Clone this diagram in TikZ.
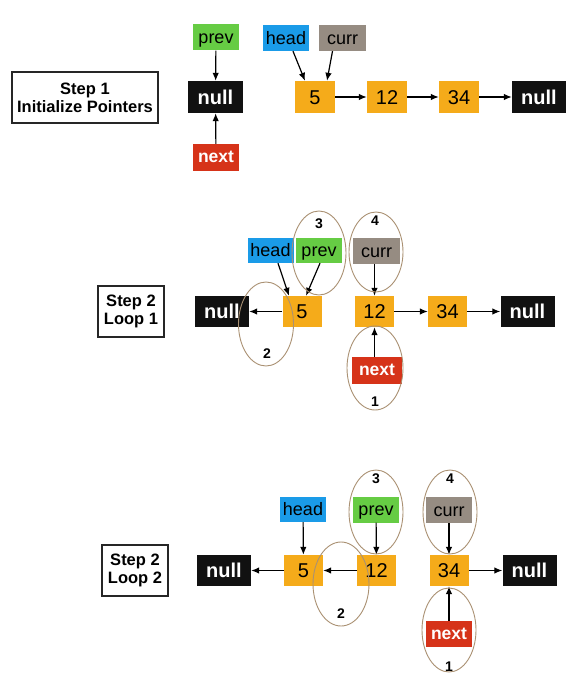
\documentclass[tikz,border=0pt]{standalone}
\usepackage{fontspec}
\setmainfont{Liberation Sans}
\usetikzlibrary{arrows.meta,shapes.geometric}
\definecolor{cval}{RGB}{245,171,26}
\definecolor{cprev}{RGB}{102,204,68}
\definecolor{chead}{RGB}{26,155,232}
\definecolor{ccurr}{RGB}{150,140,130}
\definecolor{cnext}{RGB}{214,51,25}
\definecolor{cnull}{RGB}{17,17,17}
\definecolor{cell}{RGB}{170,145,115}
\tikzset{
  base/.style={rectangle, inner sep=0pt, anchor=center},
  valbox/.style={base, fill=cval, minimum width=39pt, minimum height=31pt, text height=14.3pt, text depth=0pt, font=\fontsize{20}{20}\selectfont},
  nullbox/.style={base, fill=cnull, text=white, minimum width=54pt, minimum height=31pt, text height=14.5pt, text depth=0pt, font=\fontsize{20}{20}\selectfont\bfseries},
  ptr/.style={base, minimum width=46pt, minimum height=26pt, text height=12.5pt, text depth=0pt, font=\fontsize{18}{18}\selectfont},
  prevbox/.style={ptr, fill=cprev},
  headbox/.style={ptr, fill=chead},
  currbox/.style={ptr, fill=ccurr},
  nextbox/.style={ptr, fill=cnext, text=white, text height=10pt, font=\fontsize{17.5}{17.5}\selectfont\bfseries},
  stepbox/.style={base, draw=black!85, line width=2.2pt, align=center, font=\fontsize{16.5}{18}\selectfont\bfseries},
  link/.style={-{Latex[length=8pt,width=6.5pt]}, line width=1.2pt, black},
  ring/.style={ellipse, draw=cell, line width=0.9pt, inner sep=0pt},
  numlbl/.style={base, font=\fontsize{14}{14}\selectfont\bfseries}
}
\begin{document}
\begin{tikzpicture}[x=1pt,y=-1pt]
\useasboundingbox[fill=white] (0,0) rectangle (576,695);

% ---------- Step 1 ----------
\node[stepbox, minimum width=146pt, minimum height=51pt] (s1) at (85,97.5) {Step 1\\Initialize Pointers};
\node[prevbox] (prev1) at (216,37.5) {prev};
\node[nullbox, minimum width=55pt, minimum height=32pt] (nullL1) at (215.5,97) {null};
\node[nextbox, minimum height=27pt] (next1) at (216,157.5) {next};
\node[headbox] (head1) at (286,38) {head};
\node[currbox, minimum width=47pt] (curr1) at (342.5,38) {curr};
\node[valbox, minimum width=40pt, minimum height=32pt] (v5a) at (315,97) {5};
\node[valbox, minimum width=40pt, minimum height=32pt] (v12a) at (387,97) {12};
\node[valbox, minimum width=40pt, minimum height=32pt] (v34a) at (459,97) {34};
\node[nullbox, minimum width=54pt, minimum height=32pt] (nullR1) at (539,97) {null};
\draw[link] (prev1) -- (nullL1);
\draw[link] (next1) -- (nullL1);
\draw[link] ([xshift=7pt]head1.south) -- ([xshift=-10pt]v5a.north);
\draw[link] ([xshift=-10pt]curr1.south) -- ([xshift=12pt]v5a.north);
\draw[link] (v5a) -- (v12a);
\draw[link] (v12a) -- (v34a);
\draw[link] (v34a) -- (nullR1);

% ---------- Step 2 Loop 1 ----------
\node[stepbox, minimum width=66pt, minimum height=51pt] (s2) at (131,311.5) {Step 2\\Loop 1};
\node[nullbox] (nullL2) at (222,311.5) {null};
\node[valbox] (v5b) at (302,311.5) {5};
\node[valbox] (v12b) at (374.5,311.5) {12};
\node[valbox] (v34b) at (447.5,311.5) {34};
\node[nullbox] (nullR2) at (527.5,311.5) {null};
\node[headbox, minimum height=25pt] (head2) at (270.5,250.5) {head};
\node[prevbox, minimum height=25pt] (prev2) at (319,250.5) {prev};
\node[currbox, minimum width=47pt] (curr2) at (376.5,251) {curr};
\node[nextbox, minimum width=50pt, minimum height=27pt] (next2) at (377,370.5) {next};
\draw[link] (v5b) -- (nullL2);
\draw[link] (v12b) -- (v34b);
\draw[link] (v34b) -- (nullR2);
\draw[link] ([xshift=7.5pt]head2.south) -- ([xshift=-13pt]v5b.north);
\draw[link] ([xshift=1pt]prev2.south) -- ([xshift=4pt]v5b.north);
\draw[link] (curr2.south -| v12b.north) -- (v12b.north);
\draw[link] (next2.north -| v12b.south) -- (v12b.south);
\node[ring, minimum width=54pt, minimum height=84pt] (e3b) at (319,253) {};
\node[ring, minimum width=54pt, minimum height=80pt] (e4b) at (376,252) {};
\node[ring, minimum width=55pt, minimum height=84pt] (e2b) at (266,324) {};
\node[ring, minimum width=56pt, minimum height=84pt] (e1b) at (375,368) {};
\node[numlbl] (n3b) at (319,224) {3};
\node[numlbl] (n4b) at (375,221) {4};
\node[numlbl] (n2b) at (267,354) {2};
\node[numlbl] (n1b) at (375,402) {1};

% ---------- Step 2 Loop 2 ----------
\node[stepbox, minimum width=66pt, minimum height=51pt] (s3) at (135,570.5) {Step 2\\Loop 2};
\node[nullbox] (nullL3) at (224,570.5) {null};
\node[valbox] (v5c) at (303.5,570.5) {5};
\node[valbox] (v12c) at (376.5,570.5) {12};
\node[valbox] (v34c) at (449,570.5) {34};
\node[nullbox] (nullR3) at (529.5,570.5) {null};
\node[headbox, minimum height=25pt] (head3) at (303,509.5) {head};
\node[prevbox] (prev3) at (376,509.5) {prev};
\node[currbox] (curr3) at (449,510) {curr};
\node[nextbox] (next3) at (449,634) {next};
\draw[link] (v5c) -- (nullL3);
\draw[link] (v12c) -- (v5c);
\draw[link] (v34c) -- (nullR3);
\draw[link] (head3) -- (v5c);
\draw[link] (prev3) -- (v12c);
\draw[link] (curr3) -- (v34c);
\draw[link] (next3) -- (v34c);
\node[ring, minimum width=54pt, minimum height=84pt] (e3c) at (376,512) {};
\node[ring, minimum width=54pt, minimum height=84pt] (e4c) at (450,512) {};
\node[ring, minimum width=56pt, minimum height=84pt] (e2c) at (341,584) {};
\node[ring, minimum width=54pt, minimum height=84pt] (e1c) at (449,630) {};
\node[numlbl] (n3c) at (376,479) {3};
\node[numlbl] (n4c) at (450,479) {4};
\node[numlbl] (n2c) at (341,614) {2};
\node[numlbl] (n1c) at (449,667) {1};
\end{tikzpicture}
\end{document}
